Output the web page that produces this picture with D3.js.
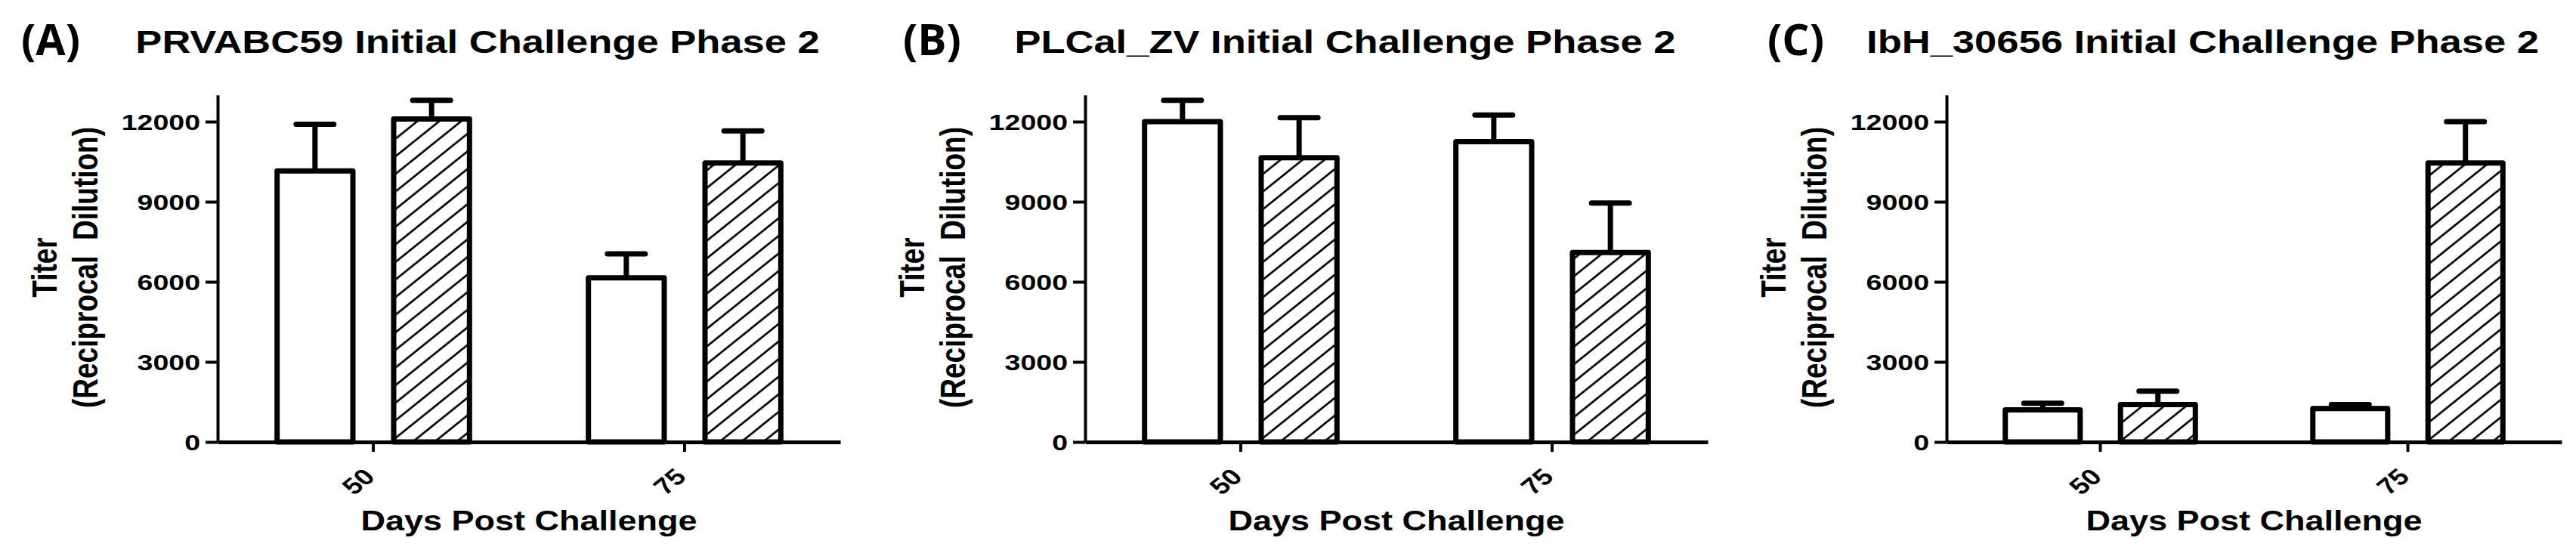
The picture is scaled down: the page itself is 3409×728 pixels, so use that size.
<!DOCTYPE html>
<html>
<head>
<meta charset="utf-8">
<script src="https://cdn.jsdelivr.net/npm/d3@7"></script>
<style>
  body { margin: 0; background: #fff; }
  svg { display: block; }
  text { font-family: "Liberation Sans", Arial, sans-serif; font-weight: bold; fill: #000; }
</style>
</head>
<body>
<div id="container"></div>
<script>
/* DATA */
const days = ["50", "75"];
const groups = ["open", "hatched"];
const panelLetters = ["(A)", "(B)", "(C)"];
const panelTitles = [
  "PRVABC59 Initial Challenge Phase 2",
  "PLCal_ZV Initial Challenge Phase 2",
  "IbH_30656 Initial Challenge Phase 2"
];
const yTicks = [0, 3000, 6000, 9000, 12000];
const yMax = 13000;

// one row per panel, one value per day
const openMeans = [[10150, 6150], [12000, 11250], [1200, 1250]];
const openSems = [[1750, 900], [800, 1000], [250, 150]];
const hatchedMeans = [[12100, 10450], [10650, 7100], [1400, 10450]];
const hatchedSems = [[700, 1200], [1500, 1850], [500, 1550]];

/* LAYOUT */
const W = 3409, H = 728;
const SX = 1.25; // the source picture is stretched sideways, text too
const plotLeft = [288, 1436, 2576];
const plotWidth = [824, 824, 814];
const letterX = [28, 1195, 2339];
const y0 = 585, y12k = 161;

const svg = d3.select("#container")
  .append("svg")
  .attr("width", W)
  .attr("height", H);

// diagonal hatch for the second series
const hw = 29, hh = 23.3;
svg.append("defs")
  .append("pattern")
  .attr("id", "hatch")
  .attr("patternUnits", "userSpaceOnUse")
  .attr("width", hw)
  .attr("height", hh)
  .append("path")
  .attr("d", `M0,${hh} L${hw},0 M${-hw/2},${hh/2} L${hw/2},${-hh/2} M${hw/2},${hh*1.5} L${hw*1.5},${hh/2}`)
  .attr("stroke", "#000")
  .attr("stroke-width", 2.7);

const y = d3.scaleLinear()
  .domain([0, yMax])
  .range([y0, y0 - yMax * (y0 - y12k) / 12000]);

panelTitles.forEach((title, i) => {
  const w = plotWidth[i];
  const g = svg.append("g").attr("transform", `translate(${plotLeft[i]},0)`);

  const x0 = d3.scaleBand().domain(days).range([0, w]);
  const x1 = d3.scaleBand().domain(groups).range([0, x0.bandwidth()])
    .paddingInner(0.35).paddingOuter(0.51);

  const rows = [];
  days.forEach((d, j) => {
    rows.push({day: d, grp: "open", mean: openMeans[i][j], sem: openSems[i][j]});
    rows.push({day: d, grp: "hatched", mean: hatchedMeans[i][j], sem: hatchedSems[i][j]});
  });
  const cx = d => x0(d.day) + x1(d.grp) + x1.bandwidth() / 2;

  // bars
  g.selectAll("rect.bar")
    .data(rows)
    .join("rect")
    .attr("class", "bar")
    .attr("x", d => x0(d.day) + x1(d.grp))
    .attr("y", d => y(d.mean))
    .attr("width", x1.bandwidth())
    .attr("height", d => y(0) - y(d.mean))
    .attr("fill", d => d.grp === "open" ? "#fff" : "url(#hatch)")
    .attr("stroke", "#000")
    .attr("stroke-width", 7)
    .attr("stroke-linejoin", "round");

  // error bars (upper only)
  g.selectAll("line.stem")
    .data(rows)
    .join("line")
    .attr("class", "stem")
    .attr("x1", cx).attr("x2", cx)
    .attr("y1", d => y(d.mean))
    .attr("y2", d => y(d.mean + d.sem))
    .attr("stroke", "#000")
    .attr("stroke-width", 7);

  g.selectAll("line.cap")
    .data(rows)
    .join("line")
    .attr("class", "cap")
    .attr("x1", d => cx(d) - 25).attr("x2", d => cx(d) + 25)
    .attr("y1", d => y(d.mean + d.sem))
    .attr("y2", d => y(d.mean + d.sem))
    .attr("stroke", "#000")
    .attr("stroke-width", 7)
    .attr("stroke-linecap", "round");

  // y axis
  const yAxis = g.append("g")
    .call(d3.axisLeft(y).tickValues(yTicks).tickSize(16).tickSizeOuter(0).tickFormat(d3.format("d")));
  yAxis.attr("font-family", null).attr("font-size", null);
  yAxis.select(".domain").attr("stroke-width", 4);
  yAxis.selectAll(".tick line").attr("stroke-width", 4);
  yAxis.selectAll(".tick text")
    .attr("x", null)
    .attr("dy", "0.36em")
    .attr("transform", `translate(-23,0) scale(${SX},1)`)
    .style("font-size", "30px");

  // x axis
  const xAxis = g.append("g")
    .attr("transform", `translate(0,${y0})`)
    .call(d3.axisBottom(x0).tickSize(13).tickSizeOuter(0));
  xAxis.attr("font-family", null).attr("font-size", null);
  xAxis.select(".domain").attr("stroke-width", 5);
  xAxis.selectAll(".tick line").attr("stroke-width", 4);
  xAxis.selectAll(".tick text")
    .attr("y", null)
    .attr("dy", null)
    .attr("text-anchor", "end")
    .attr("transform", `translate(4,48) scale(${SX},1) rotate(-45)`)
    .style("font-size", "30px");

  // axis titles
  g.append("text")
    .attr("transform", `translate(-213,354) scale(${SX},1) rotate(-90)`)
    .attr("text-anchor", "middle")
    .style("font-size", "37px")
    .text("Titer");

  g.append("text")
    .attr("transform", `translate(-159,354) scale(${SX},1) rotate(-90)`)
    .attr("text-anchor", "middle")
    .style("font-size", "37px")
    .style("white-space", "pre")
    .text("(Reciprocal  Dilution)");

  g.append("text")
    .attr("transform", `translate(${w/2},702) scale(${SX},1)`)
    .attr("text-anchor", "middle")
    .style("font-size", "36px")
    .text("Days Post Challenge");

  // panel title and letter
  g.append("text")
    .attr("transform", `translate(${w/2 - 68},70) scale(${SX},1)`)
    .attr("text-anchor", "middle")
    .style("font-size", "42px")
    .text(title);

  svg.append("text")
    .attr("x", letterX[i])
    .attr("y", 73)
    .style("font-family", "'Open Sans', sans-serif")
    .style("font-weight", "700")
    .style("font-size", "57px")
    .text(panelLetters[i]);
});
</script>
</body>
</html>
